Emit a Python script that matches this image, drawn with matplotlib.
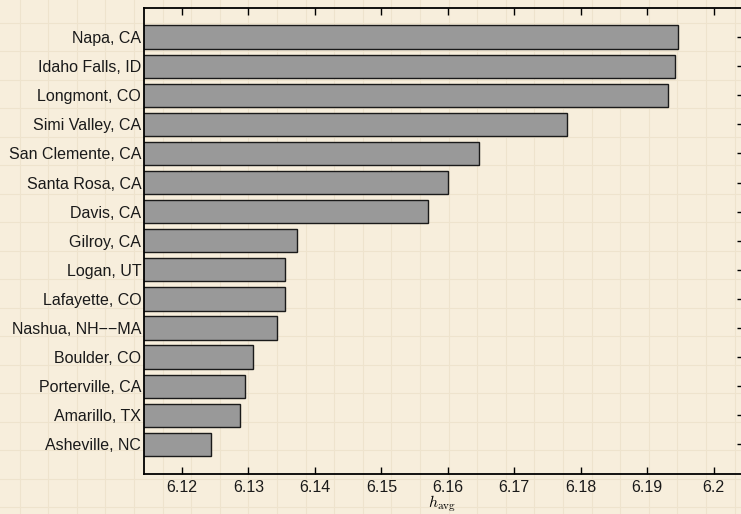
import numpy as np
import matplotlib
matplotlib.use("Agg")
import matplotlib.pyplot as plt

# cities from top to bottom, with average h
cities = ["Napa, CA", "Idaho Falls, ID", "Longmont, CO", "Simi Valley, CA",
          "San Clemente, CA", "Santa Rosa, CA", "Davis, CA", "Gilroy, CA",
          "Logan, UT", "Lafayette, CO", "Nashua, NH\u2212\u2212MA", "Boulder, CO",
          "Porterville, CA", "Amarillo, TX", "Asheville, NC"]
h_avg = [6.1946, 6.1941, 6.1931, 6.1780, 6.1647, 6.1600, 6.1570, 6.1373,
         6.1355, 6.1355, 6.1343, 6.1307, 6.1295, 6.1287, 6.1244]
xticks = [6.12, 6.13, 6.14, 6.15, 6.16, 6.17, 6.18, 6.19, 6.2]
xticklabels = ["6.12", "6.13", "6.14", "6.15", "6.16", "6.17", "6.18", "6.19", "6.2"]

plt.rcParams["font.family"] = ["Liberation Sans", "DejaVu Sans"]
plt.rcParams["mathtext.fontset"] = "cm"

W, H = 741, 514
fig = plt.figure(figsize=(W / 100, H / 100), dpi=100)
paper = "#f7eedc"
fig.patch.set_facecolor(paper)

# paper-like background with faint squares
bg = fig.add_axes([0, 0, 1, 1], zorder=-1)
bg.set_xlim(0, W)
bg.set_ylim(H, 0)
bg.set_facecolor(paper)
for gx in np.arange(19.6, W, 28.6):
    bg.axvline(gx, color="#eee3cd", lw=0.8)
for gy in np.arange(22.5, H, 28.5):
    bg.axhline(gy, color="#eee3cd", lw=0.8)
bg.axis("off")

ax = fig.add_axes([144 / W, (H - 473.5) / H, (W - 144) / W, 465.5 / H])
ax.patch.set_alpha(0)

n = len(cities)
ypos = np.arange(n, 0, -1)
ax.barh(ypos, h_avg, height=0.8, color="#999999", edgecolor="#1a1a1a", linewidth=1.0)

ax.set_xlim(6.1143, 6.2041)
ax.set_ylim(0, n + 1)
ax.set_xticks(xticks)
ax.set_xticklabels(xticklabels)
ax.set_yticks(ypos)
ax.set_yticklabels(cities)

ax.tick_params(axis="x", direction="in", length=5, width=1, top=True,
               labelsize=11.5, pad=5, labelcolor="#1a1a1a")
ax.tick_params(axis="y", direction="in", length=3, width=1, left=False,
               right=True, labelsize=11.5, pad=2, labelcolor="#1a1a1a")
for s in ["left", "top", "bottom"]:
    ax.spines[s].set_linewidth(1.3)
ax.spines["right"].set_visible(False)

ax.set_xlabel(r"$h_{\rm avg}$", fontsize=11.5, labelpad=-1.5)

fig.savefig("out.png", dpi=100, facecolor=fig.get_facecolor())
